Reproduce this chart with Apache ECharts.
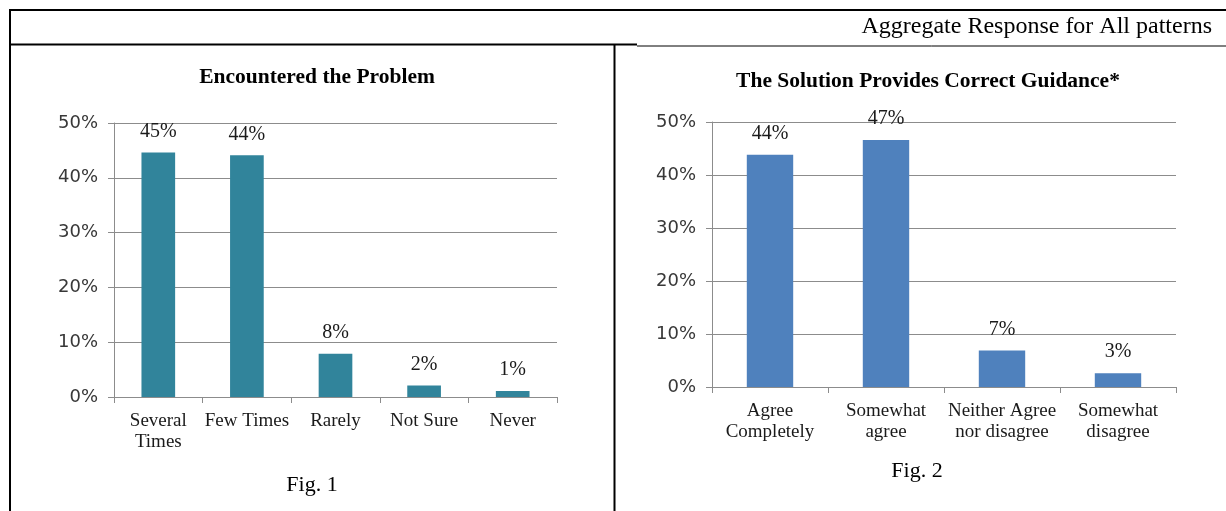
<!DOCTYPE html>
<html>
<head>
<meta charset="utf-8">
<title>Aggregate Response for All patterns</title>
<script src="https://cdn.jsdelivr.net/npm/echarts@6/dist/echarts.min.js"></script>
<style>
  html, body { margin: 0; padding: 0; background: #ffffff; }
  #chart { width: 1226px; height: 511px; }
</style>
</head>
<body>
<div id="chart"></div>
<script>
// Fig. 1 – how often respondents encountered the problem (percent)
const problemCategories = ['Several\nTimes', 'Few Times', 'Rarely', 'Not Sure', 'Never'];
const problemValues = [44.6, 44.1, 7.9, 2.1, 1.1];

// Fig. 2 – whether the solution provides correct guidance (percent)
const guidanceCategories = ['Agree\nCompletely', 'Somewhat\nagree', 'Neither Agree\nnor disagree', 'Somewhat\ndisagree'];
const guidanceValues = [43.8, 46.6, 6.9, 2.6];

// Shared percent scale
const yMin = 0;
const yMax = 50;
const yStep = 10;

const SERIF = '"Liberation Serif", "Times New Roman", serif';
const SANS = '"DejaVu Sans", sans-serif';
const GRID_GRAY = '#8c8c8c';

function valueAxis(gridIndex) {
  return {
    type: 'value',
    gridIndex: gridIndex,
    min: yMin,
    max: yMax,
    interval: yStep,
    axisLine: { show: true, lineStyle: { color: GRID_GRAY, width: 1 } },
    axisTick: { show: true, length: 6, lineStyle: { color: GRID_GRAY } },
    splitLine: { show: true, lineStyle: { color: GRID_GRAY, width: 1 } },
    axisLabel: {
      formatter: '{value}%',
      fontFamily: SANS,
      fontSize: 18,
      color: '#383838',
      margin: 16
    }
  };
}

function categoryAxis(gridIndex, data) {
  return {
    type: 'category',
    gridIndex: gridIndex,
    data: data,
    axisLine: { show: true, lineStyle: { color: GRID_GRAY, width: 1 } },
    axisTick: { show: true, length: 6, lineStyle: { color: GRID_GRAY } },
    axisLabel: {
      interval: 0,
      fontFamily: SERIF,
      fontSize: 19,
      lineHeight: 21,
      color: '#1a1a1a',
      margin: 14
    }
  };
}

function barSeries(axisIndex, values, color, width) {
  return {
    type: 'bar',
    xAxisIndex: axisIndex,
    yAxisIndex: axisIndex,
    data: values,
    barWidth: width,
    itemStyle: { color: color },
    label: {
      show: true,
      position: 'top',
      distance: 11,
      formatter: p => Math.round(p.value) + '%',
      fontFamily: SERIF,
      fontSize: 20,
      color: '#1a1a1a'
    },
    emphasis: { disabled: true }
  };
}

const chart = echarts.init(document.getElementById('chart'), null, { renderer: 'canvas' });

chart.setOption({
  animation: false,
  backgroundColor: '#ffffff',
  title: [
    {
      text: 'Encountered the Problem',
      left: 312, top: 61, textAlign: 'center',
      textStyle: { fontFamily: SERIF, fontWeight: 'bold', fontSize: 21.5, color: '#000' }
    },
    {
      text: 'The Solution Provides Correct Guidance*',
      left: 923, top: 65, textAlign: 'center',
      textStyle: { fontFamily: SERIF, fontWeight: 'bold', fontSize: 21.5, color: '#000' }
    }
  ],
  grid: [
    { left: 114, right: 669, top: 123, bottom: 114, containLabel: false },
    { left: 712, right: 50, top: 122, bottom: 124, containLabel: false }
  ],
  xAxis: [
    categoryAxis(0, problemCategories),
    categoryAxis(1, guidanceCategories)
  ],
  yAxis: [valueAxis(0), valueAxis(1)],
  series: [
    barSeries(0, problemValues, '#31849B', '38%'),
    barSeries(1, guidanceValues, '#4F81BD', '40%')
  ],
  graphic: [
    // frame of the figure table
    { type: 'line', shape: { x1: 9, y1: 10, x2: 1226, y2: 10 }, style: { stroke: '#000', lineWidth: 2 } },
    { type: 'line', shape: { x1: 10, y1: 9, x2: 10, y2: 511 }, style: { stroke: '#000', lineWidth: 2 } },
    { type: 'line', shape: { x1: 10, y1: 44.5, x2: 637, y2: 44.5 }, style: { stroke: '#000', lineWidth: 2 } },
    { type: 'line', shape: { x1: 637, y1: 46, x2: 1226, y2: 46 }, style: { stroke: '#000', lineWidth: 1 } },
    { type: 'line', shape: { x1: 614.5, y1: 44, x2: 614.5, y2: 511 }, style: { stroke: '#000', lineWidth: 2 } },
    // header and figure captions
    {
      type: 'text', x: 1212, y: 27,
      style: { text: 'Aggregate Response for All patterns', font: '24px ' + SERIF, fill: '#000', align: 'right', verticalAlign: 'middle' }
    },
    {
      type: 'text', x: 312, y: 485,
      style: { text: 'Fig. 1', font: '22px ' + SERIF, fill: '#000', align: 'center', verticalAlign: 'middle' }
    },
    {
      type: 'text', x: 917, y: 471,
      style: { text: 'Fig. 2', font: '22px ' + SERIF, fill: '#000', align: 'center', verticalAlign: 'middle' }
    }
  ]
});
</script>
</body>
</html>
